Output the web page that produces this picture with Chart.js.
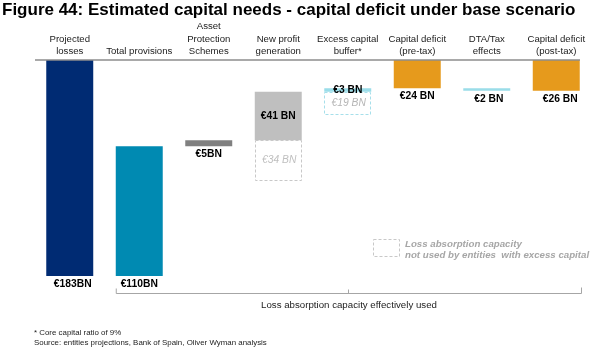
<!DOCTYPE html>
<html><head><meta charset="utf-8">
<script src="https://cdn.jsdelivr.net/npm/chart.js@4"></script>
<style>html,body{margin:0;padding:0;background:#fff}#wrap{width:592px;height:355px;position:relative}</style>
</head><body><div id="wrap"><canvas id="c" width="592" height="355"></canvas></div>
<script>
const categories = [['Projected','losses'],['Total provisions'],['Asset','Protection','Schemes'],['New profit','generation'],['Excess capital','buffer*'],['Capital deficit','(pre-tax)'],['DTA/Tax','effects'],['Capital deficit','(post-tax)']];
const barStart = [0, 0, 110, 115, 156, 159, 157, 157];
const barEnd = [183, 110, 115, 156, 159, 183, 159, 183];
const unusedStart = [null, null, null, 81, 137, null, null, null];
const unusedEnd = [null, null, null, 115, 156, null, null, null];
const valueLabels = ['€183BN','€110BN','€5BN','€41 BN','€3 BN','€24 BN','€2 BN','€26 BN'];
const unusedLabels = [null,null,null,'€34 BN','€19 BN',null,null,null];
const barColors = ['#002B73','#008AB2','#808080','#BFBFBF','#9ADDE9','#E69A1C','#9ADDE9','#E69A1C'];
const unusedColors = [null,null,null,'#C8C8C8','#A6DFEA',null,null,null];

const FONT = '"Liberation Sans", Arial, sans-serif';

const decor = {
  id: 'decor',
  afterDatasetsDraw(chart) {
    const ctx = chart.ctx;
    const ca = chart.chartArea;
    const main = chart.getDatasetMeta(0).data;
    const un = chart.getDatasetMeta(1).data;
    ctx.save();
    // top axis line
    ctx.strokeStyle = '#8c8c8c'; ctx.lineWidth = 1.5;
    ctx.beginPath(); ctx.moveTo(35, ca.top); ctx.lineTo(580, ca.top); ctx.stroke();
    // dashed boxes
    un.forEach((el, i) => {
      if (unusedStart[i] == null) return;
      const w = el.width;
      ctx.setLineDash([3, 2]); ctx.lineWidth = 1; ctx.strokeStyle = unusedColors[i];
      ctx.strokeRect(Math.round(el.x - w/2) + 0.5, Math.round(el.y) + 0.5, Math.round(w) - 1, Math.round(el.base - el.y));
    });
    ctx.setLineDash([]);
    // value labels
    ctx.textAlign = 'center'; ctx.textBaseline = 'middle';
    main.forEach((el, i) => {
      const lab = valueLabels[i];
      ctx.font = 'bold 10.3px ' + FONT; ctx.fillStyle = '#000';
      let y;
      if (i === 3) y = (el.y + el.base) / 2;
      else if (i === 4) y = el.base - 1.5;
      else y = Math.max(el.y, el.base) + 8;
      let x = el.x + (i === 0 ? 3 : i === 7 ? 4 : i === 6 ? 2 : 0);
      ctx.fillText(lab, x, y);
    });
    un.forEach((el, i) => {
      if (!unusedLabels[i]) return;
      ctx.font = 'italic 10.3px ' + FONT; ctx.fillStyle = i === 3 ? '#BFBFBF' : '#B5B5B5';
      ctx.fillText(unusedLabels[i], el.x + 1, (el.y + el.base) / 2);
    });
    // bracket
    const x0 = main[1].x - main[1].width/2 + 0.5, x1 = 581.5, yb = 293.5;
    ctx.strokeStyle = '#a6a6a6'; ctx.lineWidth = 1;
    ctx.beginPath();
    ctx.moveTo(x0, yb - 5); ctx.lineTo(x0, yb); ctx.lineTo(x1, yb); ctx.lineTo(x1, yb - 6);
    ctx.moveTo(348.5, yb); ctx.lineTo(348.5, yb - 4);
    ctx.stroke();
    ctx.fillStyle = '#222'; ctx.font = '9.7px ' + FONT;
    ctx.fillText('Loss absorption capacity effectively used', 349, 305);
    // legend
    ctx.setLineDash([3, 2]); ctx.strokeStyle = '#C8C8C8';
    ctx.strokeRect(373.5, 239.5, 26, 17);
    ctx.setLineDash([]);
    ctx.textAlign = 'left'; ctx.fillStyle = '#A6A6A6'; ctx.font = 'italic bold 9.7px ' + FONT;
    ctx.fillText('Loss absorption capacity', 405, 244.5);
    ctx.fillText('not used by entities  with excess capital', 405, 255);
    // title
    ctx.fillStyle = '#000'; ctx.font = 'bold 17px ' + FONT; ctx.textBaseline = 'middle';
    ctx.fillText('Figure 44: Estimated capital needs - capital deficit under base scenario', 2, 10);
    // footnotes
    ctx.fillStyle = '#222'; ctx.font = '7.9px ' + FONT;
    ctx.fillText('* Core capital ratio of 9%', 34, 333);
    ctx.fillText('Source: entities projections, Bank of Spain, Oliver Wyman analysis', 34, 343);
    ctx.restore();
  }
};

new Chart(document.getElementById('c'), {
  type: 'bar',
  data: {
    labels: categories,
    datasets: [
      { data: barStart.map((s, i) => [s, barEnd[i]]), backgroundColor: barColors, borderWidth: 0, borderSkipped: false, grouped: false, categoryPercentage: 1, barPercentage: 0.676 },
      { data: unusedStart.map((s, i) => s == null ? null : [s, unusedEnd[i]]), backgroundColor: 'rgba(0,0,0,0)', borderWidth: 0, grouped: false, categoryPercentage: 1, barPercentage: 0.676 }
    ]
  },
  options: {
    responsive: false, animation: false,
    layout: { padding: { left: 35, right: 1, top: 0, bottom: 79 } },
    plugins: { legend: { display: false }, tooltip: { enabled: false }, title: { display: false } },
    scales: {
      x: { position: 'top', grid: { display: false, drawTicks: false }, border: { display: false },
           ticks: { color: '#222', font: { family: FONT, size: 9.6, lineHeight: 1.32 }, padding: 2, maxRotation: 0, autoSkip: false },
           afterFit(axis) { axis.height = 60; } },
      y: { display: false, min: 0, max: 183 }
    }
  },
  plugins: [decor]
});
</script></body></html>
